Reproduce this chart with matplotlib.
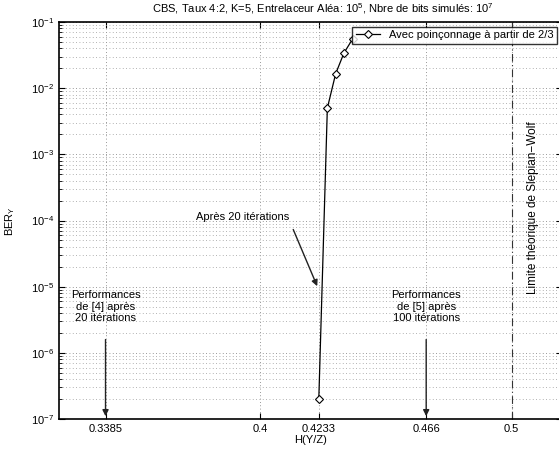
import matplotlib
matplotlib.use('Agg')
import matplotlib.pyplot as plt
from matplotlib.ticker import FixedLocator, FixedFormatter, LogLocator, NullFormatter

plt.rcParams['font.family'] = ['Liberation Sans', 'DejaVu Sans']
plt.rcParams['font.size'] = 8
plt.rcParams['mathtext.fontset'] = 'custom'
plt.rcParams['mathtext.rm'] = 'Liberation Sans'
plt.rcParams['mathtext.it'] = 'Liberation Sans'

# donnees
h_yz = [0.4233, 0.4267, 0.4300, 0.4333, 0.4367]
ber_y = [2.0e-7, 5.0e-3, 1.65e-2, 3.4e-2, 5.5e-2]

xticks = [0.3385, 0.4, 0.4233, 0.466, 0.5]
xticklabels = ['0.3385', '0.4', '0.4233', '0.466', '0.5']
perf_ref4 = 0.3385
perf_ref5 = 0.466
slepian_wolf = 0.5

W, H = 559, 455
fig = plt.figure(figsize=(W / 100, H / 100), dpi=100)
# l'axe depasse a droite (image recadree)
ax = fig.add_axes([59 / W, (H - 419) / H, (562 - 59) / W, (419 - 22) / H])

ax.set_yscale('log')
ax.set_xlim(0.32, 0.52)
ax.set_ylim(1e-7, 1e-1)

ax.plot(h_yz, ber_y, '-', color='black', lw=0.9, marker='D', ms=4.5,
        mfc='white', mec='black', mew=0.8,
        label='Avec poinçonnage à partir de 2/3')

ax.axvline(slepian_wolf, color='#333333', lw=0.8, ls=(0, (7, 3, 1, 3)))

ax.xaxis.set_major_locator(FixedLocator(xticks))
ax.xaxis.set_major_formatter(FixedFormatter(xticklabels))
ax.xaxis.get_offset_text().set_visible(False)
ax.yaxis.set_major_locator(LogLocator(base=10, numticks=10))
ax.yaxis.set_minor_locator(LogLocator(base=10, subs=range(2, 10), numticks=100))
ax.yaxis.set_minor_formatter(NullFormatter())

ax.grid(True, which='major', ls=(0, (1, 3)), color='#777777', lw=0.6)
ax.grid(True, which='minor', axis='y', ls=(0, (1, 3)), color='#999999', lw=0.6)
ax.tick_params(which='both', direction='in', top=True, right=True)
ax.tick_params(which='major', length=4)
ax.tick_params(which='minor', length=2)
for s in ax.spines.values():
    s.set_linewidth(1.2)

ax.set_xlabel('H(Y/Z)', labelpad=1)
ax.set_ylabel('BER$_Y$', labelpad=10)

fig.text(323 / W, 1 - 9 / H,
         'CBS, Taux 4:2, K=5, Entrelaceur Aléa: 10$^5$, Nbre de bits simulés: 10$^7$',
         ha='center', va='center', fontsize=8)

leg = ax.legend(loc='upper right', bbox_to_anchor=(557 / W, 1 - 27 / H),
                bbox_transform=fig.transFigure, frameon=True, fancybox=False,
                borderpad=0.3, handlelength=2.2, borderaxespad=0)
leg.get_frame().set_edgecolor('black')
leg.get_frame().set_linewidth(1.0)

arrow = dict(arrowstyle='-|>', color='#222222', lw=1.0, mutation_scale=9)

ax.text(perf_ref4, 4.95e-6, 'Performances\nde [4] après\n20 itérations',
        ha='center', va='center', linespacing=1.2)
ax.annotate('', xy=(perf_ref4, 1e-7), xytext=(perf_ref4, 1.75e-6),
            arrowprops=arrow)

ax.text(perf_ref5, 4.95e-6, 'Performances\nde [5] après\n100 itérations',
        ha='center', va='center', linespacing=1.2)
ax.annotate('', xy=(perf_ref5, 1e-7), xytext=(perf_ref5, 1.75e-6),
            arrowprops=arrow)

ax.text(0.3932, 1.12e-4, 'Après 20 itérations', ha='center', va='center')
ax.annotate('', xy=(0.4231, 9.3e-6), xytext=(0.4127, 8.0e-5),
            arrowprops=arrow)

ax.text(0.5084, 1.55e-4, 'Limite théorique de Slepian−Wolf',
        rotation=90, ha='center', va='center', fontsize=8.5)

fig.savefig('out.png', dpi=100)
